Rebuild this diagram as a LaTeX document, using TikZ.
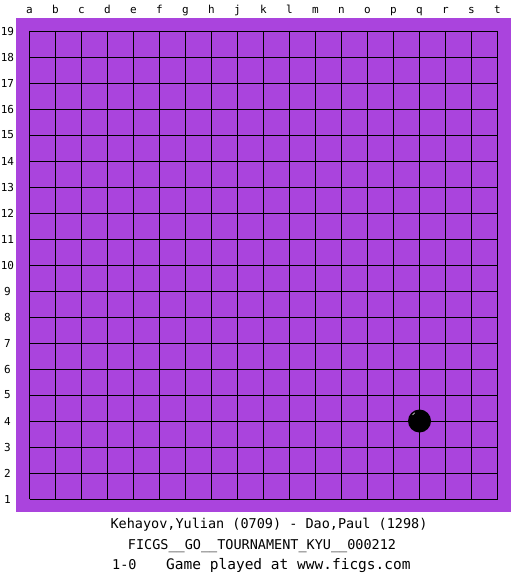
\documentclass[tikz,border=0pt]{standalone}
\usepackage{fontspec}
\setmonofont{DejaVu Sans Mono}
\definecolor{board}{HTML}{AA44DD}
\begin{document}
\begin{tikzpicture}[x=1pt,y=-1pt,
  lbl/.style={font=\ttfamily\fontsize{11}{13}\selectfont,inner sep=0pt},
  captext/.style={font=\ttfamily\fontsize{13.5}{15}\selectfont,inner sep=0pt},
  gridline/.style={line width=0.9pt,black}]
\useasboundingbox[fill=white] (0,0) rectangle (525,575);
\fill[board] (16,18) rectangle (510.5,512);
\foreach \i in {0,...,18} {
  \draw[gridline] (29.5+26*\i,31) -- (29.5+26*\i,499);
  \draw[gridline] (29.5,31+26*\i) -- (497.5,31+26*\i);
}
\foreach \l [count=\i from 0] in {a,b,c,d,e,f,g,h,j,k,l,m,n,o,p,q,r,s,t}
  \node[lbl,anchor=base] (col\l) at (29.5+26*\i,14) {\l};
\foreach \i in {0,...,18} {
  \pgfmathtruncatemacro{\r}{19-\i}
  \node[lbl] (row\r) at (7.5,31+26*\i) {\r};
}
\fill[black] (419.5,421) circle (11.5);
\draw[white,line width=0.6pt] (412.5,415) arc (210:240:6);
\node[captext,anchor=base] (t1) at (269,528) {Kehayov,Yulian (0709) - Dao,Paul (1298)};
\node[captext,anchor=base] (t2) at (262,549) {FICGS\_\_GO\_\_TOURNAMENT\_KYU\_\_000212};
\node[captext,anchor=base west] (t3a) at (112,569) {1-0};
\node[captext,anchor=base west,font=\ttfamily\fontsize{14.5}{16}\selectfont] (t3b) at (166,569) {Game played at www.ficgs.com};
\end{tikzpicture}
\end{document}
